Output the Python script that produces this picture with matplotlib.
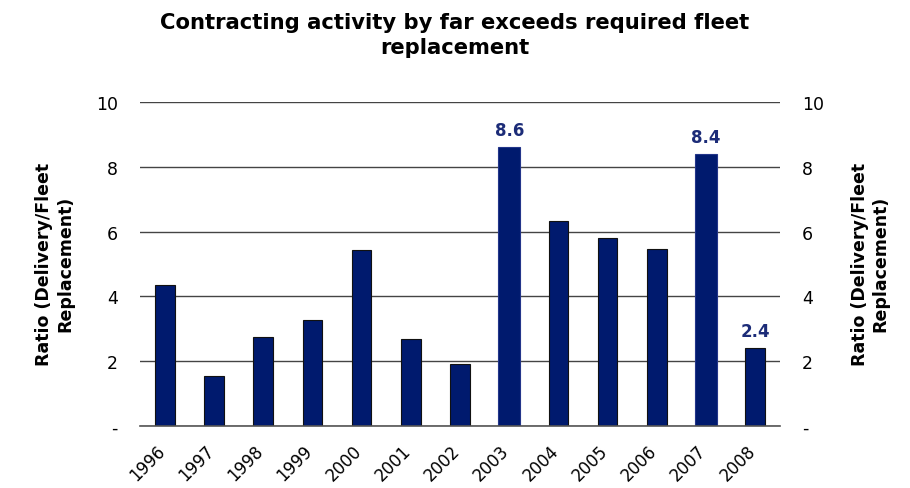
import matplotlib
matplotlib.use("Agg")
import matplotlib.pyplot as plt
import matplotlib.transforms as mtransforms
import numpy as np

years = ["1996", "1997", "1998", "1999", "2000", "2001", "2002",
         "2003", "2004", "2005", "2006", "2007", "2008"]
ratios = [4.35, 1.54, 2.75, 3.28, 5.43, 2.69, 1.91, 8.6, 6.33, 5.8, 5.46, 8.4, 2.4]
highlight = ["2003", "2007", "2008"]
yticks = [0, 2, 4, 6, 8, 10]
ytick_labels = ["-", "2", "4", "6", "8", "10"]

plt.rcParams['font.family'] = ['DejaVu Sans']
fig = plt.figure(figsize=(9.1, 4.89), dpi=100)
ax = fig.add_axes([0.154, 0.127, 0.703, 0.662])

bar_color = "#001A6E"
x = np.arange(len(years))
for i, (yr, v) in enumerate(zip(years, ratios)):
    big = yr in ("2003", "2007")
    ax.bar(i, v, width=0.44 if big else 0.40, color=bar_color,
           edgecolor="#23358A" if big else "#111111", linewidth=0.8, zorder=3)
    if yr in highlight:
        ax.text(i, v + 0.25, f"{v:.1f}", ha="center", va="bottom",
                fontsize=12, fontweight="bold", color="#1C2C78")

ax.set_xlim(-0.5, len(years) - 0.5)
ax.set_ylim(0, 10)
ax.set_yticks(yticks)
ax.set_yticklabels(ytick_labels, fontsize=12.5)
ax.grid(axis="y", color="#444444", linewidth=1.0, zorder=0)
ax.axhline(0, color="#555555", linewidth=1.2, zorder=4, clip_on=False)
for s in ax.spines.values():
    s.set_visible(False)
ax.tick_params(axis="y", length=0, pad=16)
ax.set_xticks(x)
ax.set_xticklabels(years, rotation=45, ha="right", va="top",
                   rotation_mode="anchor", fontsize=12)
ax.tick_params(axis="x", length=0, pad=11)
offset = mtransforms.ScaledTranslation(-9 / 100, 0, fig.dpi_scale_trans)
for lbl in ax.get_xticklabels():
    lbl.set_transform(lbl.get_transform() + offset)

ax2 = ax.twinx()
ax2.set_ylim(0, 10)
ax2.set_yticks(yticks)
ax2.set_yticklabels(ytick_labels, fontsize=12.5)
ax2.tick_params(axis="y", length=0, pad=16)
for s in ax2.spines.values():
    s.set_visible(False)

label = "Ratio (Delivery/Fleet\nReplacement)"
fig.text(0.060, 0.46, label, rotation=90, ha="center", va="center",
         fontsize=12.5, fontweight="bold", multialignment="center")
fig.text(0.956, 0.46, label, rotation=90, ha="center", va="center",
         fontsize=12.5, fontweight="bold", multialignment="center")

fig.text(0.5, 0.928, "Contracting activity by far exceeds required fleet\nreplacement",
         ha="center", va="center", fontsize=15.2, fontweight="bold", linespacing=1.3)

fig.savefig("out.png", dpi=100)
